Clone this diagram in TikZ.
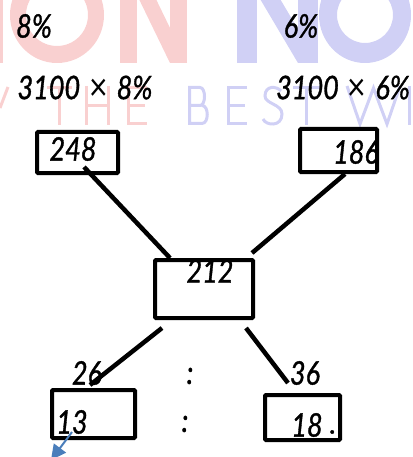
\documentclass[tikz,border=0pt]{standalone}
\usepackage{fontspec}
\setmainfont{Lato}
\newfontfamily\hwfont{Lato}[ItalicFeatures={FakeBold=1.2}]
\newcommand{\hwtext}[1]{\scalebox{1}[1.2]{#1}}
\newcommand{\hwtimes}{\hspace{9pt}\raisebox{-1pt}{\fontsize{32}{32}\selectfont\upshape ×}\hspace{9pt}}
\usetikzlibrary{arrows.meta}
\definecolor{wmpink}{HTML}{F9D0D0}
\definecolor{wmblue}{HTML}{D0D0F5}
\definecolor{arrowblue}{HTML}{4A7EBB}
\tikzset{
  hw/.style={font=\hwfont\fontsize{27}{27}\selectfont\itshape, inner sep=0pt},
  numbox/.style={draw, line width=4pt, rounded corners=1pt},
  link/.style={line width=4.5pt},
  thinwm/.style={line width=3pt},
}
\begin{document}
\begin{tikzpicture}[x=1pt,y=-1pt]
\useasboundingbox (0,0) rectangle (412,457);
\clip (0,0) rectangle (412,457);
% watermark big letters
\fill[wmpink] (-10,-40) rectangle (3,63);
\fill[wmpink, even odd rule] (57,15) ellipse [x radius=47pt, y radius=48pt] (57,15) ellipse [x radius=31pt, y radius=31pt];
\fill[wmpink] (120,-40) rectangle (137,63);
\fill[wmpink] (170,-40) rectangle (187,63);
\fill[wmpink] (120,-40) -- (137,-40) -- (187,63) -- (170,63) -- cycle;
\fill[wmblue] (237,-40) rectangle (257,63);
\fill[wmblue] (298,-40) rectangle (318,63);
\fill[wmblue] (237,-40) -- (257,-40) -- (318,63) -- (298,63) -- cycle;
\fill[wmblue, even odd rule] (365,15) ellipse [x radius=46pt, y radius=48pt] (365,15) ellipse [x radius=28pt, y radius=28pt];
% watermark thin line
\draw[wmpink, thinwm] (0,108) -- (8,87);
\draw[wmpink, thinwm] (47,87.5) -- (72,87.5) (59.5,87.5) -- (59.5,125);
\draw[wmpink, thinwm] (86.5,86) -- (86.5,125) (108.5,86) -- (108.5,125) (86.5,106) -- (108.5,106);
\draw[wmpink, thinwm] (147,87.5) -- (128.5,87.5) -- (128.5,123.5) -- (147,123.5) (128.5,106) -- (145,106);
\draw[wmblue, thinwm] (189.5,105.5) -- (189.5,87.5) -- (200,87.5) .. controls (206,87.5) and (206,105.5) .. (200,105.5) -- (189.5,105.5) -- (189.5,123.5) -- (202,123.5) .. controls (209,123.5) and (209,105.5) .. (202,105.5);
\draw[wmblue, thinwm] (247,87.5) -- (228.5,87.5) -- (228.5,123.5) -- (247,123.5) (228.5,106) -- (245,106);
\draw[wmblue, thinwm] (281,91) .. controls (277,86) and (265,85) .. (265,96) .. controls (265,104) and (282,104) .. (282,114) .. controls (282,127) and (266,126) .. (263,119);
\draw[wmblue, thinwm] (293,87.5) -- (320,87.5) (306.5,87.5) -- (306.5,125);
\draw[wmblue, thinwm, line join=miter] (347,86) -- (360,124) -- (373.5,88) -- (387,124) -- (400,86);
\draw[wmblue, thinwm] (409.5,86) -- (409.5,125);
% header texts
\node[hw] (p8) at (34,26) {\hwtext{8\%}};
\node[hw] (p6) at (301,26) {\hwtext{6\%}};
\node[hw] (c8) at (85,88) {\hwtext{3100\hwtimes 8\%}};
\node[hw, anchor=west] (c6) at (276,88) {\hwtext{3100\hwtimes 6\%}};
% boxes
\draw[numbox] (37,132) rectangle (118,173);
\node[hw] (n248) at (73,149) {\hwtext{248}};
\draw[numbox] (300,129) rectangle (377,172);
\node[hw] (n186) at (356,152) {\hwtext{186}};
\draw[numbox] (155,260) rectangle (253,318);
\node[hw] (n212) at (210,271) {\hwtext{212}};
\draw[numbox] (52,390) rectangle (135,438);
\node[hw] (n13) at (72,422) {\hwtext{13}};
\draw[numbox] (265,395) rectangle (340,440);
\node[hw] (n18) at (307,425) {\hwtext{18}};
\node[hw] (dot) at (333,432) {.};
% connector ends
\coordinate (a1) at (84,167);
\coordinate (a2) at (170,258);
\coordinate (b1) at (345,174);
\coordinate (b2) at (252,253);
\coordinate (c1) at (162,328);
\coordinate (c2) at (90,385);
\coordinate (d1) at (246,328);
\coordinate (d2) at (288,383);
\draw[link] (a1) -- (a2);
\draw[link] (b1) -- (b2);
\draw[link] (c1) -- (c2);
\draw[link] (d1) -- (d2);
% lower labels
\node[hw] (n26) at (87,373) {\hwtext{26}};
\node[hw] (n36) at (305,373) {\hwtext{36}};
\node[hw] (col1) at (190,376) {\hwtext{:}};
\node[hw] (col2) at (185,424) {\hwtext{:}};
% blue arrow
\coordinate (e1) at (72,432);
\coordinate (e2) at (51,460);
\draw[arrowblue, line width=2pt, -{Triangle[length=15pt,width=15pt]}] (e1) -- (e2);
\end{tikzpicture}
\end{document}
